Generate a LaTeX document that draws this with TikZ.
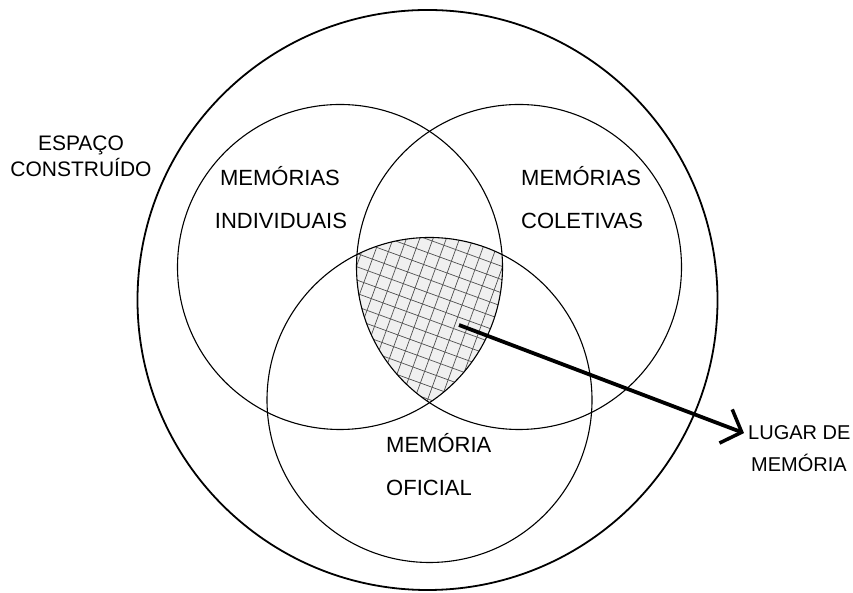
\documentclass[tikz,border=0pt]{standalone}
\usepackage{fontspec}
\setmainfont{Liberation Sans}
\usetikzlibrary{arrows.meta, positioning}
\definecolor{hatchgray}{RGB}{80,80,80}
\definecolor{lensfill}{RGB}{240,240,240}
\tikzset{
  ring/.style    = {draw=black, line width=1.1pt},
  bigring/.style = {draw=black, line width=1.8pt},
  txt/.style     = {inner sep=0pt, font=\fontsize{22}{26}\selectfont},
  hatch/.style   = {draw=hatchgray, line width=0.7pt},
  pointer/.style = {-{Straight Barb[length=17pt,width=36pt,line width=3.5pt]},
                    line width=3.8pt},
}

\begin{document}
\begin{tikzpicture}[x=1pt, y=1pt]
  \useasboundingbox (0,0) rectangle (853,593);

  % centres of the circles
  \coordinate (indiv) at (340,326);
  \coordinate (colet) at (519,326);
  \coordinate (ofic)  at (429.5,193);
  \coordinate (espaco) at (427.5,293);

  % hatched common part
  \begin{scope}
    \clip (indiv) circle (162.5);
    \clip (colet) circle (162.5);
    \clip (ofic) circle (162.5);
    \fill[lensfill] (300,150) rectangle (560,400);
    \begin{scope}[shift={(430,273)}, rotate=-20]
      \foreach \k in {-11,...,11} {
        \draw[hatch] (\k*12.5,-140) -- (\k*12.5,140);
        \draw[hatch] (-140,\k*12.5) -- (140,\k*12.5);
      }
    \end{scope}
  \end{scope}

  \draw[ring] (indiv) circle (162.5);
  \draw[ring] (colet) circle (162.5);
  \draw[ring] (ofic) circle (162.5);
  \draw[bigring] (espaco) circle (290);

  % texts
  \node[txt, font=\fontsize{21}{25}\selectfont, anchor=base] (esp1) at (81,442) {ESPAÇO};
  \node[txt, font=\fontsize{21}{25}\selectfont, anchor=base] (esp2) at (81,416) {CONSTRUÍDO};
  \node[txt, anchor=base] (ind1) at (280,407) {MEMÓRIAS};
  \node[txt, anchor=base] (ind2) at (281,364) {INDIVIDUAIS};
  \node[txt, anchor=base west] (col1) at (521,407) {MEMÓRIAS};
  \node[txt, anchor=base west] (col2) at (521,364) {COLETIVAS};
  \node[txt, anchor=base west] (ofi1) at (386,140) {MEMÓRIA};
  \node[txt, anchor=base west] (ofi2) at (386,97) {OFICIAL};
  \node[txt, font=\fontsize{20}{24}\selectfont, anchor=base west,
        inner xsep=4pt] (lug1) at (744,153) {LUGAR DE};
  \node[txt, font=\fontsize{20}{24}\selectfont, anchor=base west]
        (lug2) at (751,121) {MEMÓRIA};

  \coordinate (hit) at (459,268);
  \draw[pointer] (hit) -- (lug1.west);
\end{tikzpicture}
\end{document}
